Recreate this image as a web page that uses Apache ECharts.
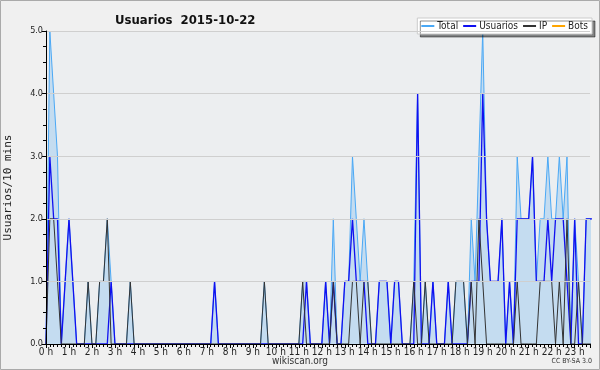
<!DOCTYPE html>
<html><head><meta charset="utf-8">
<script src="https://cdn.jsdelivr.net/npm/echarts@6/dist/echarts.min.js"></script>
<style>html,body{margin:0;padding:0;background:#f0f0f0;}#c{width:600px;height:370px;}</style>
</head><body><div id="c"></div>
<script>
const title = "Usuarios  2015-10-22";
const hourLabels = Array.from({length:24},(_, h)=>h+" h");
const usuarios = [
 0,3,2,2,0,1,2,1,0,0, 0,0,0,0,0,0,0,1,0,0, 0,0,0,0,0,0,0,0,0,0,
 0,0,0,0,0,0,0,0,0,0, 0,0,0,0,1,0,0,0,0,0, 0,0,0,0,0,0,0,0,0,0,
 0,0,0,0,0,0,0,0,1,0, 0,0,0,1,0,1,0,0,1,1, 2,1,1,1,0,0,0,1,1,1,
 0,1,1,0,0,0,0,4,0,0, 0,1,0,0,0,1,0,0,0,0, 0,1,1,1,4,2,1,1,1,2,
 0,1,0,2,2,2,2,3,1,1, 1,2,1,2,2,2,1,0,2,0, 0,2,2,2];
const ip = [
 0,2,2,1,0,0,0,0,0,0, 0,1,0,0,1,1,2,0,0,0, 0,0,1,0,0,0,0,0,0,0,
 0,0,0,0,0,0,0,0,0,0, 0,0,0,0,0,0,0,0,0,0, 0,0,0,0,0,0,0,1,0,0,
 0,0,0,0,0,0,0,1,0,0, 0,0,0,0,0,1,0,0,0,0, 1,1,0,1,1,0,0,0,0,0,
 0,0,0,0,0,0,1,0,0,1, 0,0,0,0,0,0,0,1,1,1, 0,1,0,2,1,0,0,0,0,0,
 0,0,0,1,0,0,0,0,0,1, 1,1,1,0,1,0,2,0,0,1, 0,0,0,0];
const total = [
 0,5,4,3,0,1,2,1,0,0, 0,1,0,0,1,1,2,1,0,0, 0,0,1,0,0,0,0,0,0,0,
 0,0,0,0,0,0,0,0,0,0, 0,0,0,0,1,0,0,0,0,0, 0,0,0,0,0,0,0,1,0,0,
 0,0,0,0,0,0,0,1,1,0, 0,0,0,1,0,2,0,0,1,1, 3,2,1,2,1,0,0,1,1,1,
 0,1,1,0,0,0,1,4,0,1, 0,1,0,0,0,1,0,1,1,1, 0,2,1,3,5,2,1,1,1,2,
 0,1,0,3,2,2,2,3,1,2, 2,3,2,2,3,2,3,0,2,1, 0,2,2,2];
const bots = [
 0,0,0,0,0,0,0,0,0,0, 0,0,0,0,0,0,0,0,0,0, 0,0,0,0,0,0,0,0,0,0,
 0,0,0,0,0,0,0,0,0,0, 0,0,0,0,0,0,0,0,0,0, 0,0,0,0,0,0,0,0,0,0,
 0,0,0,0,0,0,0,0,0,0, 0,0,0,0,0,0,0,0,0,0, 0,0,0,0,0,0,0,0,0,0,
 0,0,0,0,0,0,0,0,0,0, 0,0,0,0,0,0,0,0,0,0, 0,0,0,0,0,0,0,0,0,0,
 0,0,0,0,0,0,0,0,0,0, 0,0,0,0,0,0,0,0,0,0, 0,0,0,0];

const toXY = arr => arr.map((v,i)=>[i,v]);
const chart = echarts.init(document.getElementById('c'), null, {renderer:'canvas'});
const font = '"DejaVu Sans Condensed","DejaVu Sans"';
chart.setOption({
  backgroundColor:'#f0f0f0',
  animation:false,
  title:{text:title,left:110,top:9,textStyle:{fontFamily:font,fontSize:13,fontWeight:'bold',color:'#111'}},
  legend:{
    right:8,top:18,itemGap:5,itemWidth:13,itemHeight:2,icon:'rect',
    backgroundColor:'#fff',borderColor:'#ccc',borderWidth:1,padding:[3,4,3,4],
    shadowColor:'rgba(0,0,0,0.45)',shadowOffsetX:3,shadowOffsetY:3,shadowBlur:0,
    textStyle:{fontFamily:font,fontSize:10,color:'#222',padding:[0,0,0,-2]},
    data:['Total','Usuarios','IP','Bots']
  },
  grid:{left:46,right:10,top:31,bottom:26,show:true,backgroundColor:'#eceef0',borderWidth:0,
    containLabel:false,outerBoundsMode:'none'},
  xAxis:{type:'value',min:0,max:142,interval:6,z:10,
    axisLine:{lineStyle:{color:'#000'}},
    axisTick:{length:4,lineStyle:{color:'#000'}},
    minorTick:{show:true,splitNumber:6,length:3,lineStyle:{color:'#000'}},
    splitLine:{show:false},
    axisLabel:{fontFamily:font,fontSize:10,color:'#222',margin:3,showMaxLabel:false,
      formatter:v=>hourLabels[v/6]}
  },
  yAxis:{type:'value',min:0,max:5,interval:1,z:10,
    name:'Usuarios/10 mins',nameLocation:'middle',nameGap:32,
    nameTextStyle:{fontFamily:'"DejaVu Sans Mono"',fontSize:11,color:'#222'},
    axisLine:{show:true,lineStyle:{color:'#000'}},
    axisTick:{show:true,length:4,lineStyle:{color:'#000'}},
    minorTick:{show:true,splitNumber:4,length:3,lineStyle:{color:'#000'}},
    splitLine:{lineStyle:{color:'#cfcfcf'}},
    axisLabel:{fontFamily:font,fontSize:9,color:'#222',margin:3,formatter:v=>v.toFixed(1)}
  },
  graphic:[
    {type:'text',left:'center',top:356,style:{text:'wikiscan.org',font:'10px "DejaVu Sans Condensed","DejaVu Sans"',fill:'#333'}},
    {type:'text',right:8,top:358,style:{text:'CC BY-SA 3.0',font:'7px "DejaVu Sans Condensed","DejaVu Sans"',fill:'#333'}},
    {type:'rect',shape:{x:0.5,y:0.5,width:599,height:369},style:{fill:'none',stroke:'#aaa',lineWidth:1}}
  ],
  series:[
    {name:'Total',type:'line',data:toXY(total),symbol:'none',z:2,
      lineStyle:{color:'#4aa8f5',width:1},itemStyle:{color:'#4aa8f5'},
      areaStyle:{color:'#c4dcf0',opacity:1}},
    {name:'Usuarios',type:'line',data:toXY(usuarios),symbol:'none',z:3,
      lineStyle:{color:'#1010f0',width:1.3},itemStyle:{color:'#1010f0'}},
    {name:'IP',type:'line',data:toXY(ip),symbol:'none',z:4,
      lineStyle:{color:'#333',width:1},itemStyle:{color:'#333'}},
    {name:'Bots',type:'line',data:toXY(bots),symbol:'none',z:1,
      lineStyle:{color:'#ffa500',width:1},itemStyle:{color:'#ffa500'}}
  ]
});
</script></body></html>
